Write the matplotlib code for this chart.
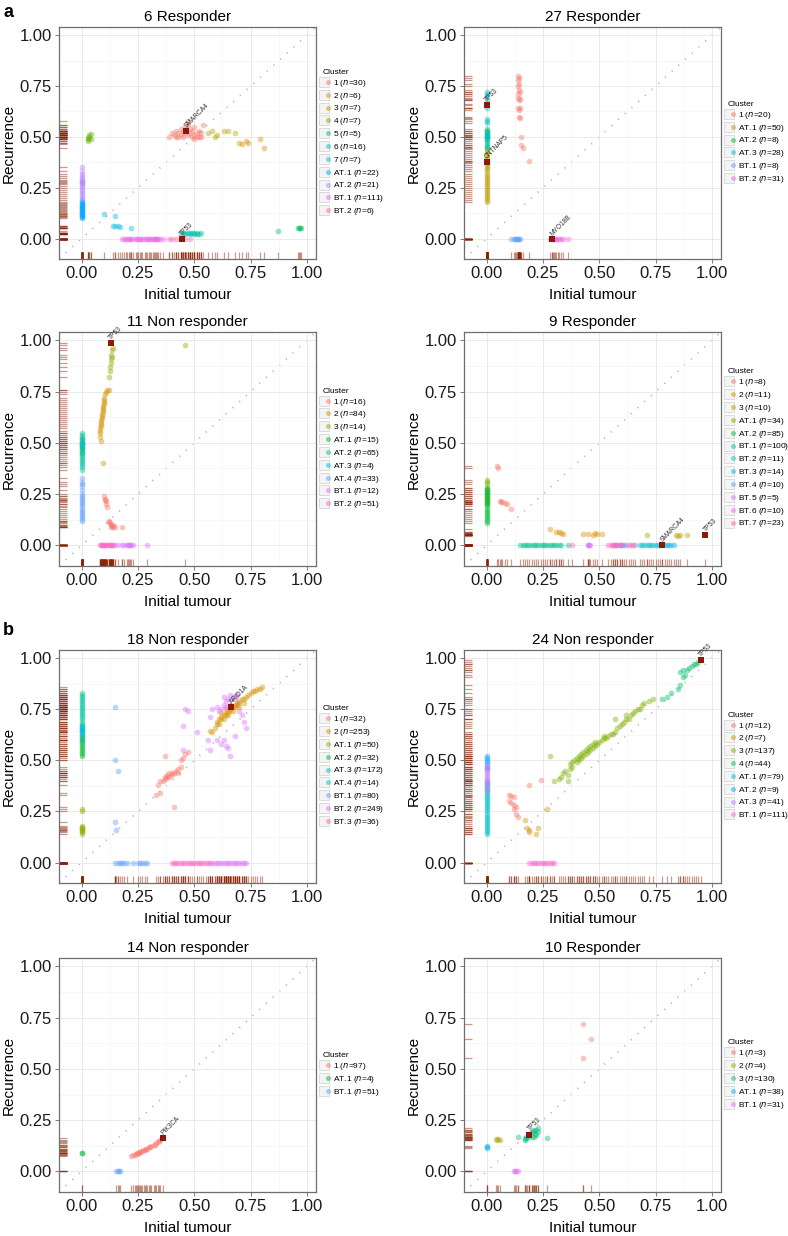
#!/usr/bin/env python3
"""
Initial tumour vs recurrence VAF scatter panels with marginal rugs.
"""

import numpy as np
import matplotlib
matplotlib.use('Agg')
import matplotlib.pyplot as plt
from matplotlib.lines import Line2D
from matplotlib.legend_handler import HandlerTuple

plt.rcParams['font.family'] = ['Liberation Sans', 'DejaVu Sans']

# ─────────────────────────────────────────────
# DATA
# ─────────────────────────────────────────────

# --- a: 6 Responder
R6_TITLE = '6 Responder'
R6_LABELS = ['1', '2', '3', '4', '5', '6', '7', 'AT.1', 'AT.2', 'BT.1', 'BT.2']
R6_N = [30, 6, 7, 7, 5, 16, 7, 22, 21, 111, 6]
R6_PTS = [
    [(0.39, 0.50), (0.41, 0.51), (0.42, 0.50), (0.43, 0.52), (0.44, 0.51), (0.45, 0.50), (0.45, 0.53),
     (0.46, 0.55), (0.47, 0.56), (0.47, 0.51), (0.48, 0.52), (0.48, 0.54), (0.49, 0.50), (0.49, 0.53),
     (0.50, 0.51), (0.50, 0.55), (0.51, 0.52), (0.51, 0.50), (0.52, 0.53), (0.53, 0.50), (0.53, 0.52),
     (0.54, 0.56), (0.44, 0.54), (0.46, 0.52), (0.42, 0.53), (0.40, 0.52), (0.47, 0.58), (0.50, 0.49),
     (0.52, 0.50), (0.43, 0.50)],
    [(0.70, 0.47), (0.71, 0.465), (0.73, 0.48), (0.74, 0.47), (0.79, 0.49), (0.81, 0.445)],
    [(0.56, 0.52), (0.58, 0.53), (0.59, 0.50), (0.60, 0.51), (0.63, 0.53), (0.65, 0.53), (0.68, 0.52)],
    [(0.03, 0.49), (0.035, 0.51), (0.03, 0.48), (0.04, 0.49), (0.035, 0.50), (0.03, 0.495), (0.04, 0.515)],
    [(0.87, 0.04), (0.96, 0.05), (0.965, 0.05), (0.97, 0.05), (0.975, 0.05)],
    [(0.44, 0.025), (0.45, 0.03), (0.46, 0.025), (0.47, 0.03), (0.48, 0.025), (0.49, 0.03), (0.50, 0.025),
     (0.51, 0.03), (0.52, 0.025), (0.53, 0.03), (0.48, 0.03), (0.50, 0.03), (0.51, 0.025), (0.46, 0.03)],
    [(0.10, 0.12), (0.15, 0.11), (0.14, 0.06), (0.15, 0.06), (0.16, 0.06), (0.17, 0.058), (0.22, 0.05)],
    [(0, 0.10), (0, 0.11), (0, 0.12), (0, 0.125), (0, 0.13), (0, 0.135), (0, 0.14), (0, 0.145), (0, 0.15),
     (0, 0.155), (0, 0.16), (0, 0.165), (0, 0.17), (0, 0.175), (0, 0.18), (0, 0.115), (0, 0.105), (0, 0.19)],
    [(0, 0.20), (0, 0.21), (0, 0.22), (0, 0.23), (0, 0.24), (0, 0.25), (0, 0.26), (0, 0.27), (0, 0.275),
     (0, 0.28), (0, 0.285), (0, 0.29), (0, 0.30), (0, 0.31), (0, 0.32), (0, 0.33), (0, 0.35)],
    [(0.18, 0), (0.19, 0), (0.195, 0), (0.20, 0), (0.21, 0), (0.215, 0), (0.22, 0), (0.23, 0), (0.24, 0),
     (0.245, 0), (0.25, 0), (0.26, 0), (0.265, 0), (0.27, 0), (0.28, 0), (0.285, 0), (0.29, 0), (0.30, 0),
     (0.305, 0), (0.31, 0), (0.315, 0), (0.32, 0), (0.325, 0), (0.33, 0), (0.335, 0), (0.34, 0), (0.35, 0),
     (0.36, 0)],
    [(0.39, 0), (0.40, 0), (0.42, 0), (0.44, 0), (0.46, 0), (0.48, 0)],
]
R6_MARKS = [('SMARCA4', 0.465, 0.53), ('TP53', 0.445, 0.0)]

# --- a: 27 Responder
R27_TITLE = '27 Responder'
R27_LABELS = ['1', 'AT.1', 'AT.2', 'AT.3', 'BT.1', 'BT.2']
R27_N = [20, 50, 8, 28, 8, 31]
R27_PTS = [
    [(0.14, 0.80), (0.145, 0.79), (0.14, 0.78), (0.145, 0.76), (0.14, 0.75), (0.145, 0.73), (0.15, 0.72),
     (0.14, 0.69), (0.145, 0.68), (0.15, 0.685), (0.14, 0.64), (0.145, 0.63), (0.15, 0.64), (0.145, 0.60),
     (0.15, 0.595), (0.155, 0.50), (0.155, 0.46), (0.16, 0.445), (0.19, 0.38), (0.14, 0.71)],
    [(0, 0.18), (0, 0.19), (0, 0.20), (0, 0.21), (0, 0.22), (0, 0.23), (0, 0.24), (0, 0.25), (0, 0.26),
     (0, 0.27), (0, 0.28), (0, 0.29), (0, 0.30), (0, 0.31), (0, 0.32), (0, 0.33), (0, 0.34), (0, 0.35),
     (0, 0.36), (0, 0.37), (0, 0.38), (0, 0.39), (0, 0.40), (0, 0.41), (0, 0.42), (0, 0.43), (0, 0.44)],
    [(0, 0.45), (0, 0.47), (0, 0.49), (0, 0.50), (0, 0.51), (0, 0.52), (0, 0.53), (0, 0.54)],
    [(0, 0.45), (0, 0.46), (0, 0.48), (0, 0.49), (0, 0.50), (0, 0.505), (0, 0.51), (0, 0.52), (0, 0.53),
     (0, 0.57), (0, 0.58), (0, 0.59), (0, 0.64), (0, 0.66), (0, 0.68), (0, 0.70), (0, 0.71), (0, 0.72)],
    [(0.11, 0), (0.12, 0), (0.125, 0), (0.13, 0), (0.135, 0), (0.14, 0), (0.145, 0), (0.15, 0)],
    [(0.28, 0), (0.29, 0), (0.295, 0), (0.30, 0), (0.305, 0), (0.31, 0), (0.315, 0), (0.32, 0), (0.33, 0),
     (0.34, 0), (0.36, 0)],
]
R27_MARKS = [('TP53', 0.0, 0.655), ('CNTNAP5', 0.0, 0.375), ('MYO18B', 0.29, 0.0)]

# --- a: 11 Non responder
N11_TITLE = '11 Non responder'
N11_LABELS = ['1', '2', '3', 'AT.1', 'AT.2', 'AT.3', 'AT.4', 'BT.1', 'BT.2']
N11_N = [16, 84, 14, 15, 65, 4, 33, 12, 51]
N11_PTS = [
    [(0.10, 0.24), (0.105, 0.225), (0.11, 0.215), (0.11, 0.20), (0.105, 0.22), (0.115, 0.185),
     (0.12, 0.12), (0.125, 0.11), (0.13, 0.10), (0.13, 0.09), (0.14, 0.09), (0.135, 0.095), (0.15, 0.09),
     (0.18, 0.09), (0.12, 0.115), (0.14, 0.10)],
    [(0.095, 0.40), (0.085, 0.51), (0.08, 0.53), (0.08, 0.55), (0.082, 0.56), (0.083, 0.57), (0.085, 0.58),
     (0.085, 0.59), (0.087, 0.60), (0.088, 0.61), (0.09, 0.62), (0.09, 0.63), (0.092, 0.64), (0.093, 0.65),
     (0.095, 0.66), (0.095, 0.67), (0.097, 0.68), (0.098, 0.69), (0.10, 0.70), (0.10, 0.71), (0.10, 0.72),
     (0.105, 0.74), (0.11, 0.75), (0.115, 0.755), (0.12, 0.755)],
    [(0.12, 0.82), (0.125, 0.85), (0.125, 0.87), (0.13, 0.89), (0.13, 0.91), (0.135, 0.92), (0.13, 0.93),
     (0.135, 0.95), (0.14, 0.96), (0.46, 0.975)],
    [(0, 0.45), (0, 0.47), (0, 0.48), (0, 0.50), (0, 0.52)],
    [(0, 0.37), (0, 0.38), (0, 0.39), (0, 0.40), (0, 0.41), (0, 0.42), (0, 0.43), (0, 0.44), (0, 0.45),
     (0, 0.46), (0, 0.47), (0, 0.48), (0, 0.49), (0, 0.50), (0, 0.51), (0, 0.52), (0, 0.53), (0, 0.54),
     (0, 0.55)],
    [(0, 0.49), (0, 0.50)],
    [(0, 0.12), (0, 0.13), (0, 0.14), (0, 0.15), (0, 0.16), (0, 0.17), (0, 0.18), (0, 0.19), (0, 0.20),
     (0, 0.21), (0, 0.22), (0, 0.23), (0, 0.24), (0, 0.25), (0, 0.27), (0, 0.29), (0, 0.30), (0, 0.31),
     (0, 0.33)],
    [(0.15, 0), (0.16, 0), (0.18, 0), (0.19, 0), (0.20, 0), (0.205, 0), (0.21, 0), (0.215, 0), (0.22, 0),
     (0.23, 0), (0.29, 0)],
    [(0.08, 0), (0.085, 0), (0.09, 0), (0.095, 0), (0.10, 0), (0.105, 0), (0.11, 0), (0.115, 0), (0.12, 0),
     (0.125, 0), (0.13, 0), (0.135, 0), (0.14, 0)],
]
N11_MARKS = [('TP53', 0.13, 0.985)]

# --- a: 9 Responder
R9_TITLE = '9 Responder'
R9_LABELS = ['1', '2', '3', 'AT.1', 'AT.2', 'BT.1', 'BT.2', 'BT.3', 'BT.4', 'BT.5', 'BT.6', 'BT.7']
R9_N = [8, 11, 10, 34, 85, 100, 11, 14, 10, 5, 10, 23]
R9_PTS = [
    [(0.045, 0.385), (0.05, 0.375), (0.06, 0.215), (0.07, 0.21), (0.08, 0.205), (0.09, 0.20),
     (0.11, 0.18), (0.065, 0.21)],
    [(0.28, 0.08), (0.31, 0.065), (0.32, 0.065), (0.33, 0.06), (0.34, 0.055), (0.43, 0.055), (0.45, 0.055),
     (0.47, 0.05), (0.48, 0.06), (0.49, 0.055), (0.51, 0.055)],
    [(0.71, 0.05), (0.84, 0.05), (0.85, 0.045), (0.89, 0.05), (0.86, 0.05)],
    [(0, 0.20), (0, 0.21), (0, 0.22), (0, 0.23), (0, 0.24), (0, 0.25), (0, 0.26), (0, 0.27), (0, 0.28),
     (0, 0.30), (0, 0.31), (0, 0.32)],
    [(0, 0.11), (0, 0.12), (0, 0.13), (0, 0.14), (0, 0.15), (0, 0.16), (0, 0.17), (0, 0.18), (0, 0.19),
     (0, 0.20), (0, 0.21), (0, 0.22), (0, 0.23), (0, 0.24), (0, 0.25), (0, 0.26), (0, 0.27), (0, 0.28)],
    [(0.15, 0), (0.16, 0), (0.17, 0), (0.18, 0), (0.19, 0), (0.20, 0), (0.21, 0), (0.22, 0), (0.23, 0),
     (0.24, 0), (0.25, 0), (0.26, 0), (0.27, 0), (0.28, 0), (0.29, 0), (0.30, 0), (0.31, 0), (0.32, 0),
     (0.33, 0), (0.36, 0)],
    [(0.68, 0), (0.69, 0), (0.70, 0), (0.71, 0), (0.72, 0), (0.73, 0), (0.74, 0), (0.75, 0), (0.77, 0)],
    [(0.76, 0), (0.78, 0), (0.79, 0), (0.80, 0), (0.81, 0), (0.82, 0), (0.83, 0)],
    [(0.58, 0), (0.59, 0), (0.60, 0), (0.61, 0), (0.62, 0), (0.66, 0)],
    [(0.45, 0), (0.455, 0), (0.46, 0)],
    [(0.55, 0), (0.56, 0), (0.57, 0), (0.58, 0), (0.45, 0)],
    [(0.38, 0), (0.54, 0), (0.56, 0), (0.57, 0), (0.59, 0), (0.60, 0), (0.63, 0), (0.64, 0), (0.65, 0)],
]
R9_MARKS = [('SMARCA4', 0.78, 0.0), ('TP53', 0.97, 0.05)]

# --- b: 18 Non responder
N18_TITLE = '18 Non responder'
N18_LABELS = ['1', '2', 'AT.1', 'AT.2', 'AT.3', 'AT.4', 'BT.1', 'BT.2', 'BT.3']
N18_N = [32, 253, 50, 32, 172, 14, 80, 249, 36]
N18_PTS = [
    [(0.33, 0.33), (0.34, 0.38), (0.35, 0.40), (0.36, 0.40), (0.37, 0.42), (0.37, 0.41), (0.38, 0.42),
     (0.38, 0.43), (0.39, 0.42), (0.39, 0.44), (0.40, 0.43), (0.40, 0.44), (0.41, 0.44), (0.42, 0.45),
     (0.43, 0.46), (0.44, 0.47), (0.45, 0.51), (0.46, 0.53), (0.47, 0.54), (0.37, 0.52), (0.41, 0.27),
     (0.35, 0.34), (0.43, 0.44), (0.44, 0.50)],
    [(0.57, 0.645), (0.58, 0.64), (0.59, 0.66), (0.60, 0.68), (0.60, 0.69), (0.61, 0.70), (0.61, 0.68),
     (0.62, 0.70), (0.62, 0.71), (0.63, 0.72), (0.63, 0.70), (0.64, 0.72), (0.64, 0.73), (0.65, 0.74),
     (0.65, 0.72), (0.66, 0.74), (0.66, 0.75), (0.67, 0.76), (0.67, 0.74), (0.68, 0.77), (0.68, 0.76),
     (0.69, 0.78), (0.69, 0.77), (0.70, 0.78), (0.70, 0.79), (0.71, 0.80), (0.72, 0.80), (0.73, 0.81),
     (0.74, 0.82), (0.75, 0.83), (0.76, 0.84), (0.77, 0.84), (0.78, 0.85), (0.79, 0.85), (0.80, 0.86),
     (0.62, 0.73), (0.66, 0.77), (0.70, 0.76), (0.72, 0.78), (0.64, 0.75)],
    [(0, 0.14), (0, 0.15), (0, 0.16), (0, 0.17), (0, 0.18), (0, 0.25), (0, 0.26), (0, 0.155), (0, 0.165),
     (0, 0.175)],
    [(0, 0.52), (0, 0.53), (0, 0.54), (0, 0.55), (0, 0.56), (0, 0.57), (0, 0.58), (0, 0.59), (0, 0.60),
     (0, 0.61), (0, 0.62)],
    [(0, 0.60), (0, 0.62), (0, 0.64), (0, 0.65), (0, 0.66), (0, 0.67), (0, 0.68), (0, 0.69), (0, 0.70),
     (0, 0.71), (0, 0.72), (0, 0.73), (0, 0.74), (0, 0.75), (0, 0.76), (0, 0.77), (0, 0.78), (0, 0.79),
     (0, 0.80), (0, 0.81), (0, 0.82), (0, 0.83)],
    [(0, 0.63), (0, 0.64), (0, 0.65), (0, 0.66), (0, 0.67)],
    [(0.15, 0.76), (0.15, 0.50), (0.16, 0.45), (0.15, 0.20), (0.155, 0.16),
     (0.15, 0), (0.16, 0), (0.17, 0), (0.18, 0), (0.19, 0), (0.20, 0), (0.23, 0), (0.25, 0), (0.26, 0),
     (0.27, 0), (0.28, 0), (0.29, 0)],
    [(0.46, 0.75), (0.47, 0.74), (0.45, 0.67), (0.51, 0.64), (0.57, 0.71), (0.58, 0.75), (0.60, 0.60),
     (0.62, 0.58), (0.63, 0.60), (0.64, 0.57), (0.65, 0.56), (0.66, 0.52), (0.68, 0.62), (0.72, 0.69),
     (0.73, 0.66), (0.60, 0.76), (0.62, 0.75), (0.63, 0.77), (0.65, 0.80), (0.66, 0.82), (0.67, 0.81),
     (0.68, 0.80), (0.64, 0.76), (0.61, 0.74), (0.70, 0.74), (0.71, 0.72), (0.69, 0.82), (0.64, 0.79),
     (0.56, 0.60), (0.57, 0.55), (0.45, 0.55), (0.63, 0.81),
     (0.58, 0), (0.59, 0), (0.60, 0), (0.61, 0), (0.62, 0), (0.63, 0), (0.64, 0), (0.65, 0), (0.66, 0),
     (0.67, 0), (0.68, 0), (0.69, 0), (0.70, 0), (0.71, 0), (0.72, 0), (0.73, 0)],
    [(0.40, 0), (0.41, 0), (0.42, 0), (0.43, 0), (0.44, 0), (0.45, 0), (0.46, 0), (0.47, 0), (0.48, 0),
     (0.49, 0), (0.50, 0), (0.51, 0), (0.52, 0), (0.53, 0), (0.54, 0), (0.55, 0), (0.56, 0), (0.57, 0)],
]
N18_MARKS = [('ARID1A', 0.665, 0.76)]

# --- b: 24 Non responder
N24_TITLE = '24 Non responder'
N24_LABELS = ['1', '2', '3', '4', 'AT.1', 'AT.2', 'AT.3', 'BT.1']
N24_N = [12, 7, 137, 44, 79, 9, 41, 111]
N24_PTS = [
    [(0.10, 0.33), (0.11, 0.325), (0.12, 0.32), (0.10, 0.30), (0.11, 0.29), (0.12, 0.28), (0.13, 0.27),
     (0.12, 0.26), (0.13, 0.24), (0.14, 0.225), (0.19, 0.38), (0.24, 0.405)],
    [(0.17, 0.21), (0.18, 0.17), (0.19, 0.16), (0.19, 0.15), (0.22, 0.14), (0.23, 0.17), (0.27, 0.26)],
    [(0.28, 0.52), (0.30, 0.40), (0.32, 0.41), (0.33, 0.42), (0.34, 0.44), (0.35, 0.45), (0.36, 0.43),
     (0.37, 0.46), (0.37, 0.48), (0.38, 0.47), (0.38, 0.49), (0.39, 0.50), (0.40, 0.49), (0.40, 0.51),
     (0.41, 0.50), (0.41, 0.52), (0.42, 0.51), (0.42, 0.53), (0.43, 0.52), (0.43, 0.54), (0.44, 0.53),
     (0.44, 0.55), (0.45, 0.54), (0.45, 0.56), (0.46, 0.55), (0.46, 0.57), (0.47, 0.56), (0.47, 0.58),
     (0.48, 0.57), (0.48, 0.59), (0.49, 0.58), (0.50, 0.59), (0.51, 0.60), (0.52, 0.61), (0.53, 0.61),
     (0.54, 0.62), (0.55, 0.63), (0.56, 0.63), (0.57, 0.64), (0.58, 0.66), (0.59, 0.67), (0.60, 0.68),
     (0.61, 0.69), (0.62, 0.70), (0.63, 0.70), (0.64, 0.72), (0.65, 0.73), (0.66, 0.74), (0.67, 0.75),
     (0.68, 0.75), (0.69, 0.77), (0.70, 0.78), (0.72, 0.79), (0.74, 0.80), (0.57, 0.70), (0.52, 0.62),
     (0.36, 0.40), (0.62, 0.72)],
    [(0.78, 0.80), (0.80, 0.81), (0.82, 0.83), (0.85, 0.85), (0.86, 0.87), (0.86, 0.93), (0.87, 0.91),
     (0.88, 0.92), (0.87, 0.94), (0.89, 0.94), (0.90, 0.95), (0.91, 0.96), (0.92, 0.97), (0.93, 0.97),
     (0.94, 0.98)],
    [(0, 0.14), (0, 0.15), (0, 0.16), (0, 0.17), (0, 0.18), (0, 0.19), (0, 0.20), (0, 0.21), (0, 0.22),
     (0, 0.23), (0, 0.24), (0, 0.25), (0, 0.26), (0, 0.27), (0, 0.28), (0, 0.29), (0, 0.30), (0, 0.31),
     (0, 0.32), (0, 0.33), (0, 0.34), (0, 0.35), (0, 0.36), (0, 0.37), (0, 0.38), (0, 0.39), (0, 0.40)],
    [(0, 0.46), (0, 0.47), (0, 0.48), (0, 0.49), (0, 0.50), (0, 0.51), (0, 0.52)],
    [(0, 0.35), (0, 0.36), (0, 0.38), (0, 0.39), (0, 0.40), (0, 0.41), (0, 0.42), (0, 0.43), (0, 0.44),
     (0, 0.45), (0, 0.46), (0, 0.47), (0, 0.48)],
    [(0.19, 0), (0.20, 0), (0.21, 0), (0.22, 0), (0.23, 0), (0.24, 0), (0.25, 0), (0.26, 0), (0.27, 0),
     (0.28, 0), (0.29, 0), (0.30, 0)],
]
N24_MARKS = [('TP53', 0.95, 0.99)]

# --- b: 14 Non responder
N14_TITLE = '14 Non responder'
N14_LABELS = ['1', 'AT.1', 'BT.1']
N14_N = [97, 4, 51]
N14_PTS = [
    [(0.22, 0.075), (0.23, 0.08), (0.24, 0.085), (0.245, 0.09), (0.25, 0.09), (0.26, 0.095), (0.265, 0.10),
     (0.27, 0.10), (0.28, 0.105), (0.285, 0.11), (0.29, 0.11), (0.30, 0.12), (0.305, 0.12), (0.31, 0.125),
     (0.32, 0.13), (0.325, 0.13), (0.33, 0.14), (0.34, 0.145), (0.345, 0.15), (0.35, 0.155), (0.235, 0.08),
     (0.255, 0.09), (0.275, 0.105)],
    [(0.0, 0.09), (0.0, 0.088)],
    [(0.155, 0.0), (0.16, 0.0), (0.165, 0.0), (0.17, 0.0)],
]
N14_MARKS = [('PIK3CA', 0.36, 0.165)]

# --- b: 10 Responder
R10_TITLE = '10 Responder'
R10_LABELS = ['1', '2', '3', 'AT.1', 'BT.1']
R10_N = [3, 4, 130, 38, 31]
R10_PTS = [
    [(0.43, 0.72), (0.465, 0.645), (0.43, 0.555)],
    [(0.04, 0.16), (0.045, 0.155), (0.05, 0.16), (0.06, 0.155)],
    [(0.14, 0.17), (0.17, 0.16), (0.17, 0.155), (0.175, 0.17), (0.18, 0.165), (0.19, 0.175), (0.20, 0.19),
     (0.205, 0.195), (0.21, 0.20), (0.21, 0.17), (0.215, 0.185), (0.22, 0.18), (0.22, 0.20), (0.23, 0.19),
     (0.23, 0.21), (0.27, 0.165), (0.19, 0.185), (0.20, 0.17)],
    [(0.0, 0.12), (0.0, 0.125), (0.0, 0.115)],
    [(0.12, 0.0), (0.125, 0.0), (0.13, 0.0), (0.14, 0.0)],
]
R10_MARKS = [('TP53', 0.19, 0.18)]

TICKS = [0.0, 0.25, 0.5, 0.75, 1.0]
TICK_LABELS = ['0.00', '0.25', '0.50', '0.75', '1.00']


# ─────────────────────────────────────────────
# COLOURS (ggplot2 default hue palette)
# ─────────────────────────────────────────────

def hcl_to_hex(h, c=100, l=65):
    xn, yn, zn = 95.047, 100.0, 108.883
    u = c * np.cos(np.radians(h))
    v = c * np.sin(np.radians(h))
    y = yn * ((l + 16) / 116) ** 3
    den = xn + 15 * yn + 3 * zn
    un, vn = 4 * xn / den, 9 * yn / den
    up = u / (13 * l) + un
    vp = v / (13 * l) + vn
    x = 9 * y * up / (4 * vp)
    z = -x / 3 - 5 * y + 3 * y / vp
    x, y, z = x / 100, y / 100, z / 100
    rgb = [3.240479 * x - 1.537150 * y - 0.498535 * z,
           -0.969256 * x + 1.875992 * y + 0.041556 * z,
           0.055648 * x - 0.204043 * y + 1.057311 * z]
    out = []
    for ch in rgb:
        ch = 12.92 * ch if ch <= 0.0031308 else 1.055 * ch ** (1 / 2.4) - 0.055
        out.append(min(max(ch, 0), 1))
    return tuple(out)


def hue_pal(n):
    return [hcl_to_hex(h) for h in np.linspace(15, 375, n + 1)[:-1]]


# ─────────────────────────────────────────────
# PLOT
# ─────────────────────────────────────────────

RUG_COL = '#8B2000'
MARK_COL = '#8B1A0A'
LO, HI = -0.1, 1.04


def draw_panel(fig, rect, title, labels, counts, pts, marks):
    ax = fig.add_axes(rect)
    cols = hue_pal(len(labels))

    ax.set_xlim(LO, HI)
    ax.set_ylim(LO, HI)
    ax.set_xticks(TICKS)
    ax.set_xticklabels(TICK_LABELS)
    ax.set_yticks(TICKS)
    ax.set_yticklabels(TICK_LABELS)
    ax.set_xticks([0.125, 0.375, 0.625, 0.875], minor=True)
    ax.set_yticks([0.125, 0.375, 0.625, 0.875], minor=True)
    ax.grid(True, which='major', color='#e6e6e6', lw=0.6, zorder=0)
    ax.grid(True, which='minor', color='#f2f2f2', lw=0.4, zorder=0)
    ax.tick_params(which='minor', length=0)
    ax.tick_params(which='major', length=3, width=0.6, color='#666666', labelsize=12,
                   labelcolor='#1a1a1a', pad=2)
    for s in ax.spines.values():
        s.set_color('#6e6e6e')
        s.set_linewidth(0.9)

    # identity line
    ax.axline((0, 0), slope=1, color='#b3b3b3', lw=1.3, ls=(0, (0.6, 4.4)), zorder=1)

    handles = []
    all_x, all_y = [], []
    for lab, n, p, c in zip(labels, counts, pts, cols):
        xs = [q[0] for q in p]
        ys = [q[1] for q in p]
        all_x += xs
        all_y += ys
        ax.scatter(xs, ys, s=17, color=c, alpha=0.42, lw=0, zorder=2)
        box = Line2D([], [], marker='s', ls='', ms=7, mfc='#f4f4f4', mec='#cfcfcf', mew=0.5)
        dot = Line2D([], [], marker='o', ls='', ms=3.6, mfc=c, mec='none', alpha=0.5)
        handles.append(((box, dot), f'{lab} ($\\it{{n}}$={n})'))

    for name, mx, my in marks:
        all_x.append(mx)
        all_y.append(my)
        ax.scatter([mx], [my], s=13, marker='s', color=MARK_COL, lw=0, zorder=3)
        ax.text(mx + 0.008, my + 0.008, name, rotation=45, fontsize=4.8, color='#333333',
                ha='left', va='bottom', rotation_mode='anchor', zorder=4)

    # marginal rugs
    ax.vlines(all_x, LO, LO + 0.034, color=RUG_COL, alpha=0.45, lw=0.9, zorder=2)
    ax.hlines(all_y, LO, LO + 0.034, color=RUG_COL, alpha=0.45, lw=0.9, zorder=2)

    ax.set_title(title, fontsize=11, pad=4)
    ax.set_xlabel('Initial tumour', fontsize=11, labelpad=5)
    ax.set_ylabel('Recurrence', fontsize=11, labelpad=3)

    leg = ax.legend([h for h, _ in handles], [t for _, t in handles],
                    handler_map={tuple: HandlerTuple(ndivide=None, pad=0)},
                    loc='center left', bbox_to_anchor=(1.025, 0.5), frameon=False,
                    fontsize=6.0, title='Cluster', title_fontsize=6.0,
                    handlelength=0.9, handletextpad=0.35, labelspacing=0.22,
                    borderaxespad=0, borderpad=0)
    leg._legend_box.align = 'left'
    return ax


fig = plt.figure(figsize=(7.88, 12.36), dpi=100)

LEFT_X, RIGHT_X = 59 / 788, 464 / 788
W = 257 / 788
ROWS = [(27, 259), (332, 566), (650, 883), (958, 1192)]


def rect(col_x, row):
    top, bot = ROWS[row]
    return [col_x, 1 - bot / 1236, W, (bot - top) / 1236]


draw_panel(fig, rect(LEFT_X, 0), R6_TITLE, R6_LABELS, R6_N, R6_PTS, R6_MARKS)
draw_panel(fig, rect(RIGHT_X, 0), R27_TITLE, R27_LABELS, R27_N, R27_PTS, R27_MARKS)
draw_panel(fig, rect(LEFT_X, 1), N11_TITLE, N11_LABELS, N11_N, N11_PTS, N11_MARKS)
draw_panel(fig, rect(RIGHT_X, 1), R9_TITLE, R9_LABELS, R9_N, R9_PTS, R9_MARKS)
draw_panel(fig, rect(LEFT_X, 2), N18_TITLE, N18_LABELS, N18_N, N18_PTS, N18_MARKS)
draw_panel(fig, rect(RIGHT_X, 2), N24_TITLE, N24_LABELS, N24_N, N24_PTS, N24_MARKS)
draw_panel(fig, rect(LEFT_X, 3), N14_TITLE, N14_LABELS, N14_N, N14_PTS, N14_MARKS)
draw_panel(fig, rect(RIGHT_X, 3), R10_TITLE, R10_LABELS, R10_N, R10_PTS, R10_MARKS)

fig.text(0.004, 0.997, 'a', fontsize=13, fontweight='bold', ha='left', va='top')
fig.text(0.004, 0.497, 'b', fontsize=13, fontweight='bold', ha='left', va='top')

fig.savefig('out.png', dpi=100)
print('saved out.png')
